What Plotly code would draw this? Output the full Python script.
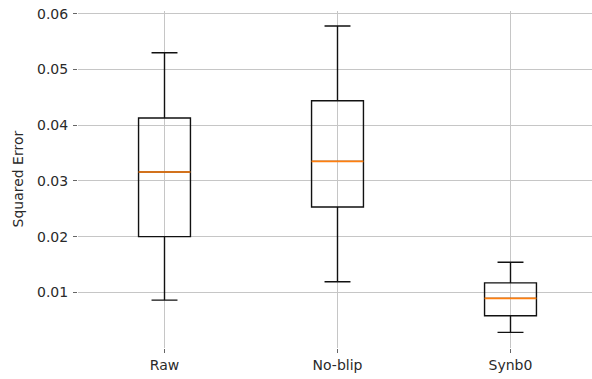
import plotly.graph_objects as go

categories = ["Raw", "No-blip", "Synb0"]
positions = [1, 2, 3]
lower_whisker = [0.0086, 0.0119, 0.0028]
q1 = [0.0200, 0.0253, 0.0058]
median = [0.0316, 0.0335, 0.0089]
q3 = [0.0413, 0.0444, 0.0117]
upper_whisker = [0.0530, 0.0578, 0.0154]
y_ticks = [0.01, 0.02, 0.03, 0.04, 0.05, 0.06]
y_label = "Squared Error"

box_width = 0.3
W, H = 592, 379
ML, MR, MT, MB = 78, 0, 11, 31
px_per_unit = 173.0

fig = go.Figure()
fig.add_trace(go.Box(
    x=positions, q1=q1, median=median, q3=q3,
    lowerfence=lower_whisker, upperfence=upper_whisker,
    width=box_width, whiskerwidth=0.5,
    fillcolor="rgba(0,0,0,0)",
    line=dict(color="#111111", width=1.4),
    boxpoints=False, hoverinfo="skip", showlegend=False,
))

mx, my = [], []
for p, m in zip(positions, median):
    mx += [p - box_width / 2, p + box_width / 2, None]
    my += [m, m, None]
fig.add_trace(go.Scatter(
    x=mx, y=my, mode="lines",
    line=dict(color="#ff7f0e", width=1.6),
    hoverinfo="skip", showlegend=False,
))

font = dict(family="DejaVu Sans", size=14, color="#2a2a2a")
plot_w = W - ML - MR
fig.update_layout(
    width=W, height=H,
    margin=dict(l=ML, r=MR, t=MT, b=MB, autoexpand=False),
    paper_bgcolor="white", plot_bgcolor="white",
    font=font,
    xaxis=dict(
        range=[0.5, 0.5 + plot_w / px_per_unit],
        tickmode="array", tickvals=positions, ticktext=categories,
        showgrid=True, gridcolor="#c6c6c6", gridwidth=1,
        zeroline=False, showline=False,
        ticks="outside", ticklen=4, tickcolor="#666666", tickwidth=1,
    ),
    yaxis=dict(
        range=[0.0, 0.0605],
        tickmode="array", tickvals=y_ticks, tickformat=".2f",
        showgrid=True, gridcolor="#c6c6c6", gridwidth=1,
        zeroline=False, showline=False,
        ticks="outside", ticklen=4, tickcolor="#666666", tickwidth=1,
        ticklabelstandoff=2,
    ),
    annotations=[dict(
        text=y_label, textangle=-90, showarrow=False,
        xref="paper", yref="paper", x=(17 - ML) / plot_w, y=0.5,
        xanchor="center", yanchor="middle", font=font,
    )],
)

fig.write_html(
    "out.html",
    config={"displayModeBar": False},
    post_script="document.body.style.margin='0';document.body.style.overflow='hidden';",
)
